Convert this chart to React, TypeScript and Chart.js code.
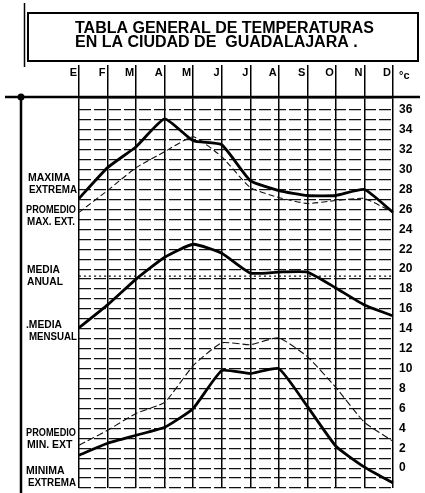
import React, { useEffect, useRef } from 'react';
import { Chart, registerables } from 'chart.js';

Chart.register(...registerables);

// ---- data ----
const months = ['E', 'F', 'M', 'A', 'M', 'J', 'J', 'A', 'S', 'O', 'N', 'D'];
const maximaExtrema = [27.1, 30.2, 32.3, 35.1, 32.9, 32.5, 28.9, 27.9, 27.4, 27.4, 28.0, 25.7];
const promedioMaxExt = [25.7, 27.9, 30.2, 31.8, 33.3, 31.3, 28.2, 27.2, 26.6, 26.9, 27.1, 25.7];
const mediaMensual = [14.1, 16.4, 19.0, 21.2, 22.5, 21.6, 19.6, 19.7, 19.7, 18.1, 16.4, 15.3];
const mediaAnual = [19.3, 19.3, 19.3, 19.3, 19.3, 19.3, 19.3, 19.3, 19.3, 19.3, 19.3, 19.3];
const promedioMinExt = [2.3, 3.8, 5.5, 6.6, 10.3, 12.6, 12.4, 13.1, 11.2, 8.1, 4.6, 2.7];
const minimaExtrema = [1.3, 2.5, 3.3, 4.1, 6.0, 9.8, 9.5, 10.0, 6.2, 2.2, 0.1, -1.5];
const yTickValues = [0, 2, 4, 6, 8, 10, 12, 14, 16, 18, 20, 22, 24, 26, 28, 30, 32, 34, 36];
const titleLines = ['TABLA GENERAL DE TEMPERATURAS', 'EN LA CIUDAD DE  GUADALAJARA .'];
const unitLabel = '°c';
const sideLabels = [
  ['MAXIMA', 'EXTREMA'],
  ['PROMEDIO', 'MAX. EXT.'],
  ['MEDIA', 'ANUAL'],
  ['.MEDIA', 'MENSUAL'],
  ['PROMEDIO', 'MIN. EXT'],
  ['MINIMA', 'EXTREMA'],
];

const FONT = "'Liberation Sans', Arial, sans-serif";

// ---- layout (positions only) ----
const sideLabelY = [178, 210, 270, 325, 433, 471];
const sideLabelX = [[28, 29], [26, 27], [27, 27], [26, 29], [26, 27], [26, 28]];
const sideLabelW = [[46, 48], [50, 48], [33, 36], [36, 48], [50, 48], [43, 48]];

const decorPlugin = {
  id: 'decor',
  afterDraw(chart: any) {
    const ctx = chart.ctx;
    const area = chart.chartArea;
    ctx.save();
    ctx.strokeStyle = '#000';
    ctx.fillStyle = '#000';
    // title box
    ctx.lineWidth = 2;
    ctx.strokeRect(28, 13, 390, 48);
    ctx.lineWidth = 1.5;
    ctx.beginPath();
    ctx.moveTo(24.5, 3);
    ctx.lineTo(24.5, 67);
    ctx.stroke();
    // heavy top line
    ctx.lineWidth = 2.5;
    ctx.beginPath();
    ctx.moveTo(5, area.top);
    ctx.lineTo(420, area.top);
    ctx.stroke();
    // left vertical rule
    ctx.beginPath();
    ctx.moveTo(21, area.top);
    ctx.lineTo(21, 493);
    ctx.stroke();
    ctx.beginPath();
    ctx.arc(21, area.top, 3.5, 0, Math.PI * 2);
    ctx.fill();
    // unit
    ctx.font = `bold 11px ${FONT}`;
    ctx.textBaseline = 'middle';
    ctx.textAlign = 'left';
    ctx.fillText(unitLabel, 399, 76);
    // side labels
    ctx.font = `bold 10.5px ${FONT}`;
    sideLabels.forEach((lines, i) => {
      lines.forEach((t, j) => {
        ctx.fillText(t, sideLabelX[i][j], sideLabelY[i] + j * 12.5, sideLabelW[i][j]);
      });
    });
    ctx.restore();
  },
};

export default function App() {
  const ref = useRef<HTMLCanvasElement>(null);
  useEffect(() => {
    if (!ref.current) return;
    const thick = (label: string, data: number[]) => ({
      label,
      data,
      borderColor: '#000',
      borderWidth: 2.8,
      pointRadius: 0,
      tension: 0.15,
      xAxisID: 'x',
      yAxisID: 'y',
    });
    const thin = (label: string, data: number[], dash: number[]) => ({
      label,
      data,
      borderColor: '#111',
      borderWidth: 1.1,
      borderDash: dash,
      pointRadius: 0,
      tension: 0.15,
      xAxisID: 'x',
      yAxisID: 'y',
    });
    const chart = new Chart(ref.current, {
      type: 'line',
      data: {
        labels: months,
        datasets: [
          thick('Máxima extrema', maximaExtrema),
          thin('Promedio máx. ext.', promedioMaxExt, [6, 3]),
          thick('Media mensual', mediaMensual),
          thin('Media anual', mediaAnual, [2, 3]),
          thin('Promedio mín. ext.', promedioMinExt, [7, 3]),
          thick('Mínima extrema', minimaExtrema),
        ],
      },
      options: {
        responsive: false,
        animation: false,
        events: [],
        layout: { padding: { top: 13, left: 75, right: 0, bottom: 5 } },
        plugins: {
          legend: { display: false },
          tooltip: { enabled: false },
          title: {
            display: true,
            text: titleLines,
            align: 'start',
            color: '#000',
            font: { family: FONT, size: 16, weight: 'bold', lineHeight: 0.9 },
            padding: { top: 8.2, bottom: 10 },
          },
        },
        scales: {
          x: {
            type: 'category',
            position: 'top',
            offset: false,
            grid: {
              offset: false,
              color: '#000',
              lineWidth: 1.5,
              tickLength: 32,
              tickColor: '#000',
              tickWidth: 1.5,
            },
            border: { display: true, color: '#000', width: 2.5 },
            ticks: {
              align: 'end',
              labelOffset: -2,
              padding: -15,
              color: '#000',
              font: { family: FONT, size: 11, weight: 'bold' },
              maxRotation: 0,
              autoSkip: false,
            },
            afterFit(s: any) {
              s.height = 37;
              s.paddingLeft = 0;
              s.paddingRight = 0;
            },
          },
          yL: {
            type: 'linear',
            position: 'left',
            min: -2,
            max: 37.3,
            grid: { display: false },
            border: { display: false },
            ticks: { display: false },
            afterFit(s: any) {
              s.width = 4;
              s.paddingTop = 0;
              s.paddingBottom = 0;
            },
          },
          y: {
            type: 'linear',
            position: 'right',
            min: -2,
            max: 37.3,
            grid: { color: '#111', lineWidth: 1.2, drawTicks: false },
            border: { display: false, dash: [12, 3] },
            ticks: {
              stepSize: 1,
              padding: 6,
              color: '#000',
              font: { family: FONT, size: 12, weight: 'bold' },
              autoSkip: false,
              callback: (v: any) => (yTickValues.includes(Number(v)) ? String(v) : ''),
            },
            afterFit(s: any) {
              s.width = 32;
              s.paddingTop = 0;
              s.paddingBottom = 0;
            },
          },
        },
      },
      plugins: [decorPlugin],
    } as any);
    return () => chart.destroy();
  }, []);
  return (
    <div style={{ position: 'absolute', left: 0, top: 0, width: 425, height: 493, background: '#fff' }}>
      <canvas ref={ref} width={425} height={493} />
    </div>
  );
}
